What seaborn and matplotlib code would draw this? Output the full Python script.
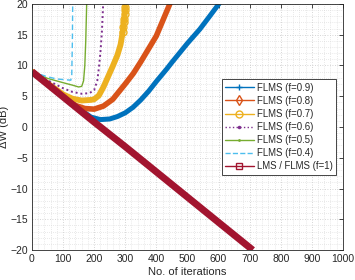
import numpy as np
import pandas as pd
import matplotlib
matplotlib.use("Agg")
import matplotlib.pyplot as plt
from matplotlib.lines import Line2D
from matplotlib.ticker import MultipleLocator
import seaborn as sns

# ---- data ----
lms_x = [0, 100, 200, 300, 400, 500, 600, 710]
lms_y = [9.0, 4.9, 0.8, -3.2, -7.3, -11.4, -15.5, -20.0]

f09_x = [0, 50, 100, 150, 190, 220, 250, 275, 300, 325, 350, 375, 400, 433, 450, 500, 540, 570, 604]
f09_y = [9.0, 7.0, 5.0, 3.0, 1.6, 1.2, 1.3, 1.7, 2.3, 3.2, 4.4, 5.8, 7.4, 9.4, 10.5, 13.6, 15.9, 17.9, 20.2]

f08_x = [0, 50, 100, 140, 170, 200, 230, 260, 300, 326, 350, 400, 445]
f08_y = [9.0, 7.0, 5.1, 3.5, 3.0, 2.9, 3.4, 4.5, 7.0, 8.7, 10.6, 14.8, 20.2]

f07_x = [0, 50, 100, 130, 160, 190, 200, 215, 230, 245, 260, 275, 285, 292, 297, 300]
f07_y = [9.0, 7.1, 5.3, 4.6, 4.3, 4.4, 4.5, 5.1, 6.5, 8.2, 9.9, 11.7, 13.4, 15.5, 17.5, 19.5]
f07_mk_x = [292, 294, 296, 297, 298, 299, 300]
f07_mk_y = [15.5, 16.3, 17.0, 17.5, 18.3, 19.0, 19.5]

f06_x = [0, 50, 100, 130, 160, 185, 200, 210, 215, 220, 225, 229]
f06_y = [9.0, 7.6, 6.3, 5.7, 5.4, 5.5, 6.0, 7.5, 9.5, 12.0, 15.5, 20.0]

f05_x = [0, 50, 100, 130, 150, 160, 166, 170, 173, 176]
f05_y = [9.0, 7.9, 7.2, 6.8, 6.5, 6.6, 7.5, 10.0, 14.0, 20.0]

f04_x = [0, 47, 80, 125, 128, 130, 131]
f04_y = [9.0, 8.2, 7.8, 7.6, 8.5, 14.0, 20.0]

labels = ["FLMS (f=0.9)", "FLMS (f=0.8)", "FLMS (f=0.7)", "FLMS (f=0.6)",
          "FLMS (f=0.5)", "FLMS (f=0.4)", "LMS / FLMS (f=1)"]

C_BLUE = "#0072BD"; C_ORANGE = "#D95319"; C_YELLOW = "#EDB120"
C_PURPLE = "#7E2F8E"; C_GREEN = "#77AC30"; C_CYAN = "#4DBEEE"; C_RED = "#A2142F"

sns.set_style("white")
plt.rcParams["font.family"] = ["Liberation Sans", "DejaVu Sans"]

fig = plt.figure(figsize=(3.55, 2.8), dpi=100)
ax = fig.add_axes([0.090, 0.107, 0.876, 0.879])

def draw(x, y, **kw):
    df = pd.DataFrame({"x": x, "y": y})
    sns.lineplot(data=df, x="x", y="y", ax=ax, sort=False, estimator=None,
                 legend=False, **kw)

draw(f09_x, f09_y, color=C_BLUE, linewidth=3.6, solid_capstyle="round", solid_joinstyle="round")
draw(f08_x, f08_y, color=C_ORANGE, linewidth=4.0, solid_capstyle="round", solid_joinstyle="round")
draw(f07_x, f07_y, color=C_YELLOW, linewidth=4.2, solid_capstyle="round", solid_joinstyle="round")
ax.plot(f07_mk_x, f07_mk_y, linestyle="none", marker="o", markersize=5,
        markerfacecolor="none", markeredgecolor=C_YELLOW, markeredgewidth=1.0)
draw(f06_x, f06_y, color=C_PURPLE, linewidth=1.4, linestyle=(0, (1, 1.5)))
draw(f05_x, f05_y, color=C_GREEN, linewidth=1.0)
draw(f04_x, f04_y, color=C_CYAN, linewidth=1.0, linestyle=(0, (4, 2.5)))
draw(lms_x, lms_y, color=C_RED, linewidth=5.0, solid_capstyle="butt")

ax.set_xlim(0, 1000)
ax.set_ylim(-20, 20)
ax.xaxis.set_major_locator(MultipleLocator(100))
ax.yaxis.set_major_locator(MultipleLocator(5))
ax.xaxis.set_minor_locator(MultipleLocator(20))
ax.yaxis.set_minor_locator(MultipleLocator(1))
ax.grid(which="major", color="#c8c8c8", linestyle=(0, (1, 2)), linewidth=0.6)
ax.grid(which="minor", color="#d4d4d4", linestyle=(0, (1, 2)), linewidth=0.5)
ax.set_axisbelow(True)
ax.tick_params(which="major", direction="in", length=3, width=0.6, top=True, right=True,
               labelsize=7.5, colors="#262626", pad=3)
ax.tick_params(which="minor", length=0, top=True, right=True)
for s in ax.spines.values():
    s.set_color("#262626")
    s.set_linewidth(0.6)
ax.set_xlabel("No. of iterations", fontsize=8, color="#262626", labelpad=2)
ax.set_ylabel("\u0394W (dB)", fontsize=8, color="#262626", labelpad=1)

handles = [
    Line2D([], [], color=C_BLUE, lw=1.0, marker="+", markersize=5),
    Line2D([], [], color=C_ORANGE, lw=1.0, marker="d", markersize=5, mfc="none"),
    Line2D([], [], color=C_YELLOW, lw=1.0, marker="o", markersize=5, mfc="none"),
    Line2D([], [], color=C_PURPLE, lw=1.0, linestyle=":", marker=".", markersize=3),
    Line2D([], [], color=C_GREEN, lw=1.0, marker=".", markersize=2),
    Line2D([], [], color=C_CYAN, lw=1.0, linestyle="--"),
    Line2D([], [], color=C_RED, lw=1.0, marker="s", markersize=4, mfc="none"),
]
leg = ax.legend(handles, labels, loc="center right", bbox_to_anchor=(0.977, 0.5),
                fontsize=6.9, frameon=True, fancybox=False, edgecolor="#262626",
                handlelength=3.0, handletextpad=0.3, borderpad=0.35, labelspacing=0.32,
                borderaxespad=0)
leg.get_frame().set_linewidth(0.6)
leg.get_frame().set_facecolor("white")
leg.get_frame().set_alpha(1)

fig.savefig("out.png", dpi=100)
